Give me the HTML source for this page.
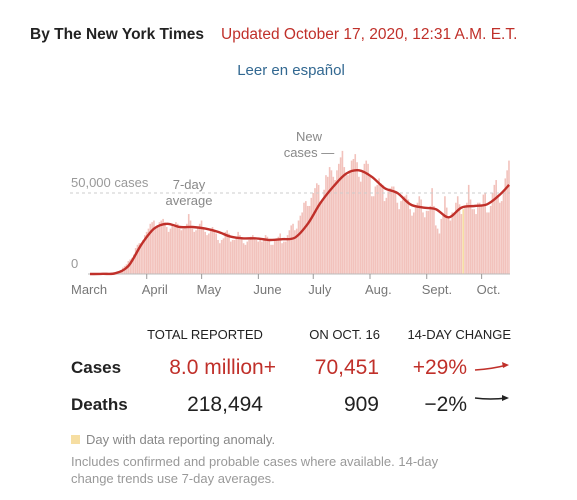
<!DOCTYPE html>
<html><head><meta charset="utf-8"><style>
body{margin:0;background:#fff;width:577px;height:500px;overflow:hidden;font-family:"Liberation Sans",sans-serif}
svg{display:block}
</style></head><body>
<svg id="chart" width="577" height="500">
<text x="30" y="39" font-size="15.5" font-weight="bold" fill="#222">By The New York Times</text>
<text x="221" y="39" font-size="15.5" fill="#c0302a">Updated October 17, 2020, 12:31 A.M. E.T.</text>
<text x="291" y="75" font-size="15" fill="#326891" text-anchor="middle">Leer en español</text>
<g id="plot"></g>
<g>
<text x="205" y="339" font-size="13" fill="#222" text-anchor="middle">TOTAL REPORTED</text>
<text x="380" y="339" font-size="13" fill="#222" text-anchor="end">ON OCT. 16</text>
<text x="511" y="339" font-size="13" fill="#222" text-anchor="end">14-DAY CHANGE</text>
<text x="71" y="373" font-size="17" font-weight="bold" fill="#222">Cases</text>
<text x="276" y="374" font-size="21" fill="#c0302a" text-anchor="end">8.0 million+</text>
<text x="379" y="374" font-size="21" fill="#c0302a" text-anchor="end">70,451</text>
<text x="467" y="374" font-size="21" fill="#c0302a" text-anchor="end">+29%</text>
<path d="M475,370 Q492,369 507,365" stroke="#c0302a" stroke-width="1.6" fill="none"/>
<path d="M502,362 L509,365 L503,368 Z" fill="#c0302a"/>
<text x="71" y="410" font-size="17" font-weight="bold" fill="#222">Deaths</text>
<text x="263" y="411" font-size="21" fill="#222" text-anchor="end">218,494</text>
<text x="379" y="411" font-size="21" fill="#222" text-anchor="end">909</text>
<text x="467" y="411" font-size="21" fill="#222" text-anchor="end">−2%</text>
<path d="M475,398 Q490,400 507,398" stroke="#222" stroke-width="1.4" fill="none"/>
<path d="M502,395 L509,398 L502,401 Z" fill="#222"/>
</g>
<rect x="71" y="435" width="9" height="9" fill="#f6dea2"/>
<text x="86" y="444" font-size="13" fill="#888">Day with data reporting anomaly.</text>
<text x="71" y="466" font-size="13" fill="#999">Includes confirmed and probable cases where available. 14-day</text>
<text x="71" y="483" font-size="13" fill="#999">change trends use 7-day averages.</text>
</svg>
<script>
// daily new cases (thousands), Mar 1 .. Oct 16
const dailyCases = [
0,0,0,0,0,0,0,0.1,0.1,0.2,0.3,0.4,0.5,0.7,0.8,1,1.5,2.5,4,5,6,8,9,10,12,16,18,19,19,21,24,
26,28,31,32,33,28,30,32,33,34,32,29,26,28,30,29,32,31,28,27,28,29,31,37,33,28,26,27,29,31,
33,29,26,24,25,28,29,27,25,21,19,21,22,26,27,25,20,21,21,23,26,24,22,19,18,20,21,23,24,22,21,
20,21,20,22,24,23,21,18,18,21,22,23,25,19,20,20,24,27,30,31,27,28,33,36,38,44,45,42,42,47,
50,53,56,55,44,46,52,61,60,66,64,60,58,64,68,72,76,66,62,61,64,70,71,74,69,60,57,64,68,70,68,
60,48,48,54,55,59,56,55,45,47,51,53,54,54,51,44,40,45,46,48,49,46,40,36,38,41,44,48,46,38,35,
39,39,42,53,42,30,28,25,34,36,48,41,35,33,38,37,44,48,43,37,40,41,44,55,46,40,40,37,44,44,
43,49,50,38,38,42,50,55,58,49,44,45,50,59,64,70];
// 7-day average (thousands), sampled weekly: day index and value
const avgDays = [0,7,14,21,28,35,42,49,56,63,70,77,84,91,98,105,112,119,126,133,140,147,154,161,168,175,182,189,196,203,210,217,224,229];
const avgValues = [0,0.1,0.5,5,18,28,31,29,29,28,26,23,22,22,21,21.5,22.5,31,44,54,62,64,60,53,50,43,41,40,35,41,42,43,49,55];
const monthLabels = ["March","April","May","June","July","Aug.","Sept.","Oct."];
const monthDays = [0,31,61,92,122,153,184,214];
const yTicks = [0,50];
const yTickLabels = ["0","50,000 cases"];

const NS="http://www.w3.org/2000/svg";
const g=document.getElementById('plot');
const x0=90,pxDay=1.83,yBase=274,pxK=81/50;
const X=d=>x0+d*pxDay, Y=v=>yBase-v*pxK;
function el(t,a){const e=document.createElementNS(NS,t);for(const k in a)e.setAttribute(k,a[k]);g.appendChild(e);return e;}
dailyCases.forEach((v,i)=>{
 const r=el('rect',{x:X(i)-0.9,y:Y(v),width:1.6,height:Math.max(0,yBase-Y(v)),fill:i===204?'#f6dea2':'#f2c2bc'});
 
 
});
yTicks.forEach((t,i)=>{
 if(t>0){const l=el('line',{x1:70,x2:510,y1:Y(t),y2:Y(t),stroke:'#ccc','stroke-dasharray':'3,3'});
 
 }
 const tx=el('text',{x:71,y:Y(t)-6,'font-size':13,fill:'#999'});
 tx.textContent=yTickLabels[i];
 
 
});
const ax=el('line',{x1:88,x2:510,y1:yBase,y2:yBase,stroke:'#bbb'});


monthLabels.forEach((m,i)=>{
 const d=monthDays[i];
 if(i>0){const tk=el('line',{x1:X(d),x2:X(d),y1:yBase,y2:yBase+5,stroke:'#999'});
 
 }
 const tx=el('text',{x:i===0?71:X(d)-5,y:yBase+20,'font-size':13,fill:'#777'});
 tx.textContent=m;
 
 
});
// smooth curve (Catmull-Rom -> Bezier)
const pts=avgDays.map((d,i)=>[X(d),Y(avgValues[i])]);
let dstr='M'+pts[0][0]+','+pts[0][1];
for(let i=0;i<pts.length-1;i++){
 const p0=pts[Math.max(0,i-1)],p1=pts[i],p2=pts[i+1],p3=pts[Math.min(pts.length-1,i+2)];
 const c1=[p1[0]+(p2[0]-p0[0])/6,p1[1]+(p2[1]-p0[1])/6];
 const c2=[p2[0]-(p3[0]-p1[0])/6,p2[1]-(p3[1]-p1[1])/6];
 dstr+='C'+c1[0].toFixed(1)+','+c1[1].toFixed(1)+' '+c2[0].toFixed(1)+','+c2[1].toFixed(1)+' '+p2[0].toFixed(1)+','+p2[1].toFixed(1);
}
const p=el('path',{d:dstr,stroke:'#c0302a','stroke-width':2.4,fill:'none','stroke-linejoin':'round'});


function lab(txt,x,y,name){const t=el('text',{x:x,y:y,'font-size':13,fill:'#888','text-anchor':'middle'});t.textContent=txt;
 
 }
lab('7-day',189,189,'avg-annotation');
lab('average',189,205,'avg-annotation-2');
lab('New',309,141,'new-cases-annotation');
lab('cases —',309,157,'new-cases-annotation-2');
</script>
</body></html>
